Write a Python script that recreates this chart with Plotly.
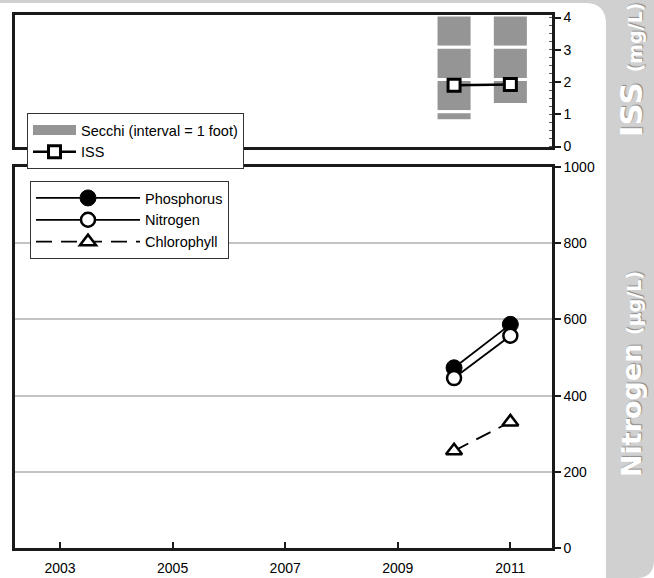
import plotly.graph_objects as go

W, H = 654, 578

# ---------------- data ----------------
years = [2010, 2011]
secchi_ft = [3.28, 2.78]          # Secchi depth (ft), drawn down from the surface
iss = [1.90, 1.92]                # ISS (mg/L)
phosphorus = [473, 587]
nitrogen = [446, 557]
chlorophyll = [255, 331]

x_ticks = [2003, 2005, 2007, 2009, 2011]
top_ticks = [0, 1, 2, 3, 4]
bottom_ticks = [0, 200, 400, 600, 800, 1000]

SURFACE = 4.08
FONT = "Liberation Sans, Arial, sans-serif"
SECCHI_GRAY = "#959595"


def px(x):
    return x / W


def py(y):
    return 1 - y / H


fig = go.Figure()

# Secchi bars as 1-foot segments stacked down from the surface
n_seg = int(max(secchi_ft)) + 1
for k in range(n_seg):
    xs, bases, lens = [], [], []
    for yr, d in zip(years, secchi_ft):
        if d > k:
            seg_end = min(k + 1, d)
            xs.append(yr)
            bases.append(SURFACE - seg_end)
            lens.append(seg_end - k)
    fig.add_trace(go.Bar(
        x=xs, y=lens, base=bases, width=0.64,
        marker=dict(color=SECCHI_GRAY, line=dict(color="white", width=3)),
        name="Secchi (interval = 1 foot)", showlegend=False,
        xaxis="x2", yaxis="y2",
    ))

# legend swatch for the Secchi bars (wide grey block like the original)
fig.add_trace(go.Scatter(
    x=[None], y=[None], mode="lines", name="Secchi (interval = 1 foot)",
    line=dict(color=SECCHI_GRAY, width=12),
    xaxis="x2", yaxis="y2", legend="legend", legendrank=1,
))

fig.add_trace(go.Scatter(
    x=years, y=iss, mode="lines+markers", name="ISS",
    line=dict(color="black", width=2.5),
    marker=dict(symbol="square", size=12, color="white",
                line=dict(color="black", width=3)),
    xaxis="x2", yaxis="y2", legend="legend", legendrank=2,
))

fig.add_trace(go.Scatter(
    x=years, y=phosphorus, mode="lines+markers", name="Phosphorus",
    line=dict(color="black", width=1.8),
    marker=dict(symbol="circle", size=16, color="black",
                line=dict(color="black", width=1)),
    xaxis="x", yaxis="y", legend="legend2",
))
fig.add_trace(go.Scatter(
    x=years, y=nitrogen, mode="lines+markers", name="Nitrogen",
    line=dict(color="black", width=1.8),
    marker=dict(symbol="circle", size=14, color="white",
                line=dict(color="black", width=2.5)),
    xaxis="x", yaxis="y", legend="legend2",
))
fig.add_trace(go.Scatter(
    x=years, y=chlorophyll, mode="lines+markers", name="Chlorophyll",
    line=dict(color="black", width=1.8, dash="16px,9px"),
    marker=dict(symbol="triangle-up", size=14, color="white",
                line=dict(color="black", width=2.5)),
    xaxis="x", yaxis="y", legend="legend2",
))

x_dom = [px(15), px(552)]
x_range = [2002.2, 2011.74]
frame = dict(showline=True, linecolor="#1a1a1a", linewidth=2.5, mirror=True,
             automargin=False)
tickfont = dict(family=FONT, size=14, color="black")
legfont = dict(family=FONT, size=14.5, color="black")

fig.update_layout(
    width=W, height=H, autosize=False,
    margin=dict(l=0, r=0, t=0, b=0, pad=0, autoexpand=False),
    paper_bgcolor="white", plot_bgcolor="white",
    barmode="overlay",
    font=dict(family=FONT, color="black"),
    xaxis=dict(domain=x_dom, range=x_range, anchor="y",
               tickvals=x_ticks, ticktext=[str(v) for v in x_ticks],
               ticks="inside", ticklen=6, tickwidth=2, tickcolor="#1a1a1a",
               ticklabelstandoff=5,
               showgrid=False, zeroline=False, tickfont=tickfont, **frame),
    yaxis=dict(domain=[py(548), py(167)], range=[0, 1000], anchor="x",
               side="right", tickvals=bottom_ticks,
               ticks="outside", ticklen=6, tickwidth=2, tickcolor="#1a1a1a",
               showgrid=True, gridcolor="#c4c4c4", gridwidth=1.5,
               zeroline=False, tickfont=tickfont, **frame),
    xaxis2=dict(domain=x_dom, range=x_range, anchor="y2",
                showticklabels=False, ticks="", showgrid=False,
                zeroline=False, **frame),
    yaxis2=dict(domain=[py(146.5), py(15)], range=[0, SURFACE], anchor="x2",
                side="right", tickvals=top_ticks,
                ticks="outside", ticklen=6, tickwidth=2, tickcolor="#1a1a1a",
                minor=dict(ticks="inside", ticklen=3, dtick=0.25,
                           tickcolor="#555", tickwidth=1),
                showgrid=False, zeroline=False, tickfont=tickfont, **frame),
    legend=dict(x=px(27), y=py(113), xanchor="left", yanchor="top",
                bgcolor="white", bordercolor="#333", borderwidth=1,
                font=legfont, itemwidth=43, tracegroupgap=0,
                traceorder="normal", itemclick=False, itemdoubleclick=False),
    legend2=dict(x=px(30), y=py(181), xanchor="left", yanchor="top",
                 bgcolor="white", bordercolor="#333", borderwidth=1,
                 font=legfont, itemwidth=104, tracegroupgap=0,
                 traceorder="normal", itemclick=False, itemdoubleclick=False),
)

# decorative gray tab on the right with the axis titles
tab_path = (
    f"M {px(0)},{py(0)} L {px(654)},{py(0)} L {px(654)},{py(560)} "
    f"Q {px(654)},{py(578)} {px(636)},{py(578)} L {px(606)},{py(578)} "
    f"L {px(606)},{py(24)} Q {px(606)},{py(3)} {px(585)},{py(3)} "
    f"L {px(0)},{py(3)} Z"
)
fig.add_shape(type="path", path=tab_path, xref="paper", yref="paper",
              fillcolor="#d0d0d0", line=dict(width=0), layer="below")

shadow = "1px 1px 1px #8a8a8a"
fig.add_annotation(
    x=px(631), y=py(70), xref="paper", yref="paper", showarrow=False,
    textangle=-90, xanchor="center", yanchor="middle",
    text="<b>ISS</b> <span style='font-size:19px'><b>(mg/L)</b></span>",
    font=dict(family="DejaVu Sans, sans-serif", size=31, color="white",
              shadow=shadow),
)
fig.add_annotation(
    x=px(631), y=py(374), xref="paper", yref="paper", showarrow=False,
    textangle=-90, xanchor="center", yanchor="middle",
    text="<b>Nitrogen</b> <span style='font-size:19px'><b>(µg/L)</b></span>",
    font=dict(family="DejaVu Sans, sans-serif", size=27, color="white",
              shadow=shadow),
)

fig.write_html(
    "out.html",
    config={"displayModeBar": False, "responsive": False},
    post_script="document.body.style.margin='0';"
                "document.documentElement.style.overflow='hidden';",
)
